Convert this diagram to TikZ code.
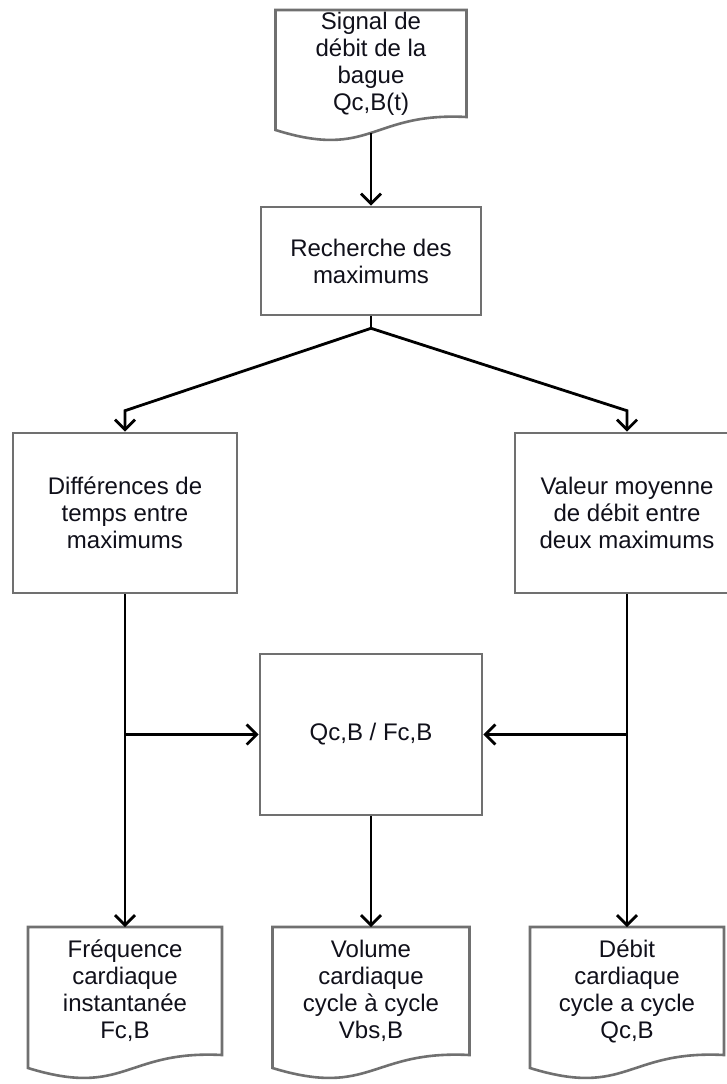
\documentclass[tikz,border=0pt]{standalone}
\usepackage{fontspec}
\setmainfont{Liberation Sans}
\usetikzlibrary{arrows.meta,calc}
\definecolor{Frame}{HTML}{707070}
\definecolor{Wire}{HTML}{000000}
\definecolor{Label}{HTML}{10101A}

\newcommand{\docoutline}[1]{%
  \draw[boxline] (#1.north west) -- (#1.north east) -- (#1.south east)
    .. controls ($(#1.south)+(0,-5)$) and ($(#1.south)+(0,43)$) .. ($(#1.south west)+(0,13)$) -- cycle;
  \coordinate (#1-w) at ($(#1.south)+(0,16)$);}

\begin{document}
\begin{tikzpicture}[x=1pt,y=-1pt,>={Straight Barb[length=10pt,width=20pt]},
  boxline/.style={draw=Frame,line width=2.6pt},
  procbox/.style={rectangle,boxline,fill=white,align=center,inner sep=0pt,text=Label,
    font=\fontsize{24}{27}\selectfont},
  docbox/.style={rectangle,draw=none,outer sep=0pt,align=center,inner sep=0pt,text=Label,
    font=\fontsize{24}{27}\selectfont},
  wire/.style={draw=Wire,line width=2.8pt}]
\useasboundingbox (0,0) rectangle (727,1084);
\fill[white] (0,0) rectangle (727,1084);
\node[docbox,minimum width=191pt,minimum height=107pt] (signal) at (371,63.5) {Signal de\\débit de la\\bague\\Qc,B(t)};
\docoutline{signal}
\node[procbox,minimum width=220pt,minimum height=108pt] (recherche) at (371,261) {Recherche des\\maximums};
\node[procbox,minimum width=224pt,minimum height=160pt] (diff) at (125,513) {Différences de\\temps entre\\maximums};
\node[procbox,minimum width=224pt,minimum height=160pt] (moyenne) at (627,513) {Valeur moyenne\\de débit entre\\deux maximums};
\node[procbox,minimum width=222pt,minimum height=161pt] (ratio) at (371,734.5) {Qc,B / Fc,B};
\node[docbox,minimum width=194pt,minimum height=128pt] (freq) at (125,991) {Fréquence\\cardiaque\\instantanée\\Fc,B};
\docoutline{freq}
\node[docbox,minimum width=197pt,minimum height=128pt] (volume) at (371,991) {Volume\\cardiaque\\cycle à cycle\\Vbs,B};
\docoutline{volume}
\node[docbox,minimum width=194pt,minimum height=128pt] (debit) at (627,991) {Débit\\cardiaque\\cycle a cycle\\Qc,B};
\docoutline{debit}
\draw[wire,->] (signal-w) -- (recherche.north);
\draw[wire] (recherche.south) -- ++(0,12) coordinate (split);
\draw[wire,->] (split) -- ([yshift=21pt]diff.north) -- (diff.north);
\draw[wire,->] (split) -- ([yshift=21pt]moyenne.north) -- (moyenne.north);
\draw[wire,->] (diff.south) -- (freq.north);
\draw[wire,->] (moyenne.south) -- (debit.north);
\draw[wire,->] (diff.south |- ratio.west) -- (ratio.west);
\draw[wire,->] (moyenne.south |- ratio.east) -- (ratio.east);
\draw[wire,->] (ratio.south) -- (volume.north);
\end{tikzpicture}
\end{document}
